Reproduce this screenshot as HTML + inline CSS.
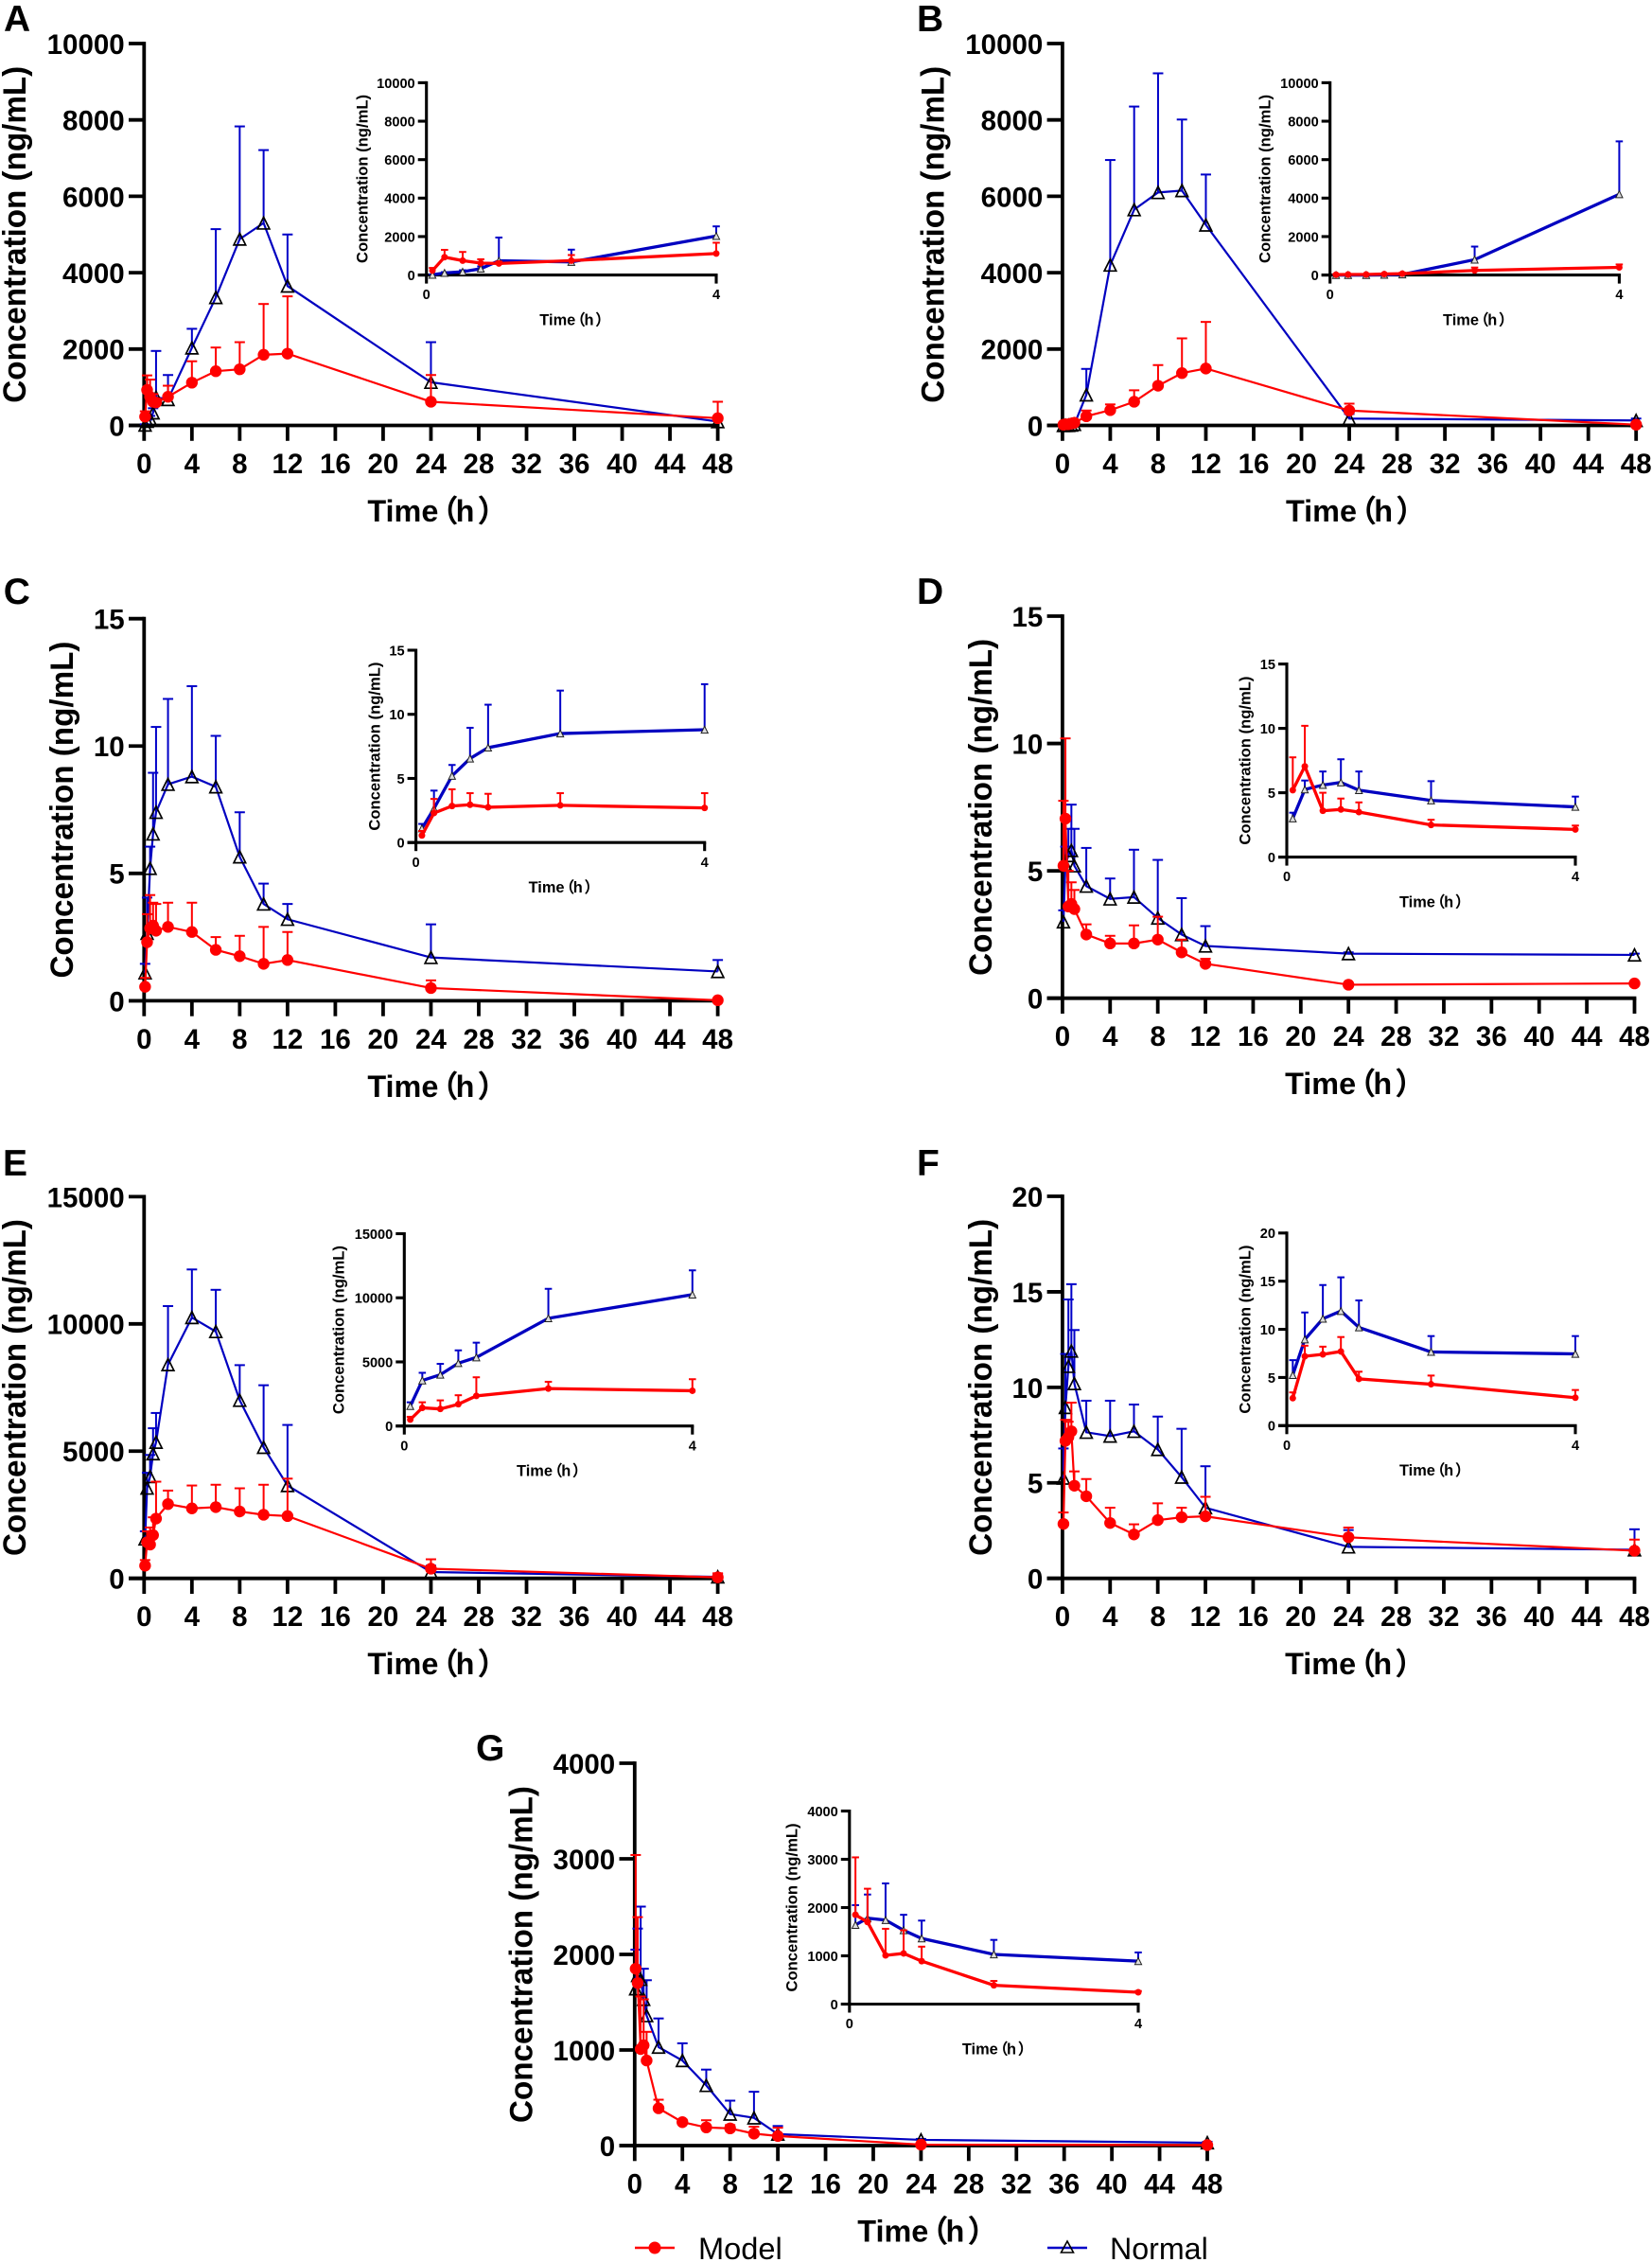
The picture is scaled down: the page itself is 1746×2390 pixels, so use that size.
<!DOCTYPE html>
<html lang="en">
<head>
<meta charset="utf-8">
<title>Concentration-time curves</title>
<style>
html,body{margin:0;padding:0;background:#fff;width:1746px;height:2390px;overflow:hidden}
svg{display:block}
text{font-family:"Liberation Sans","Noto Sans CJK SC",sans-serif;fill:#000}
</style>
</head>
<body>
<svg id="figure" width="1746" height="2390" viewBox="0 0 1746 2390" xmlns="http://www.w3.org/2000/svg">
  <g id="panels"></g>
  <g>
    <g>
      <line x1="671" y1="2375" x2="713" y2="2375" stroke="#ff0000" stroke-width="2.5"></line>
      <circle cx="692" cy="2375" r="6.5" fill="#ff0000"></circle>
      <text x="738" y="2387" font-size="32.6">Model</text>
    </g>
    <g>
      <line x1="1107" y1="2375" x2="1149" y2="2375" stroke="#0000c8" stroke-width="2.5"></line>
      <path d="M1128 2368 L1134.5 2380 L1121.5 2380 Z" fill="none" stroke="#000" stroke-width="1.6"></path>
      <text x="1173" y="2387" font-size="32.2">Normal</text>
    </g>
  </g>
</svg>
<script>
const timePoints = [0.083,0.25,0.5,0.75,1,2,4,6,8,10,12,24,48];
const xTickValues = [0,4,8,12,16,20,24,28,32,36,40,44,48];
const insetXTickValues = [0,4];

const yTicksA = [0,2000,4000,6000,8000,10000];
const modelMeanA = [230,930,750,620,600,750,1120,1420,1470,1850,1880,620,190];
const modelUpperA = [370,1310,1200,820,700,1040,1680,2040,2180,3180,3380,1320,620];
const normalMeanA = [10,110,170,330,740,680,2030,3350,4880,5300,3650,1130,100];
const normalUpperA = [30,150,250,450,1950,1320,2530,5140,7830,7210,5000,2180,130];

const yTicksB = [0,2000,4000,6000,8000,10000];
const modelMeanB = [20,30,30,50,70,240,400,620,1040,1370,1490,390,20];
const modelUpperB = [40,50,50,70,120,390,550,920,1580,2280,2710,570,40];
const normalMeanB = [0,0,0,10,30,800,4200,5650,6100,6150,5250,180,130];
const normalUpperB = [5,5,5,20,50,1480,6950,8350,9220,8010,6570,300,180];

const yTicksC = [0,5,10,15];
const modelMeanC = [0.55,2.3,2.85,2.95,2.75,2.9,2.7,2.0,1.75,1.45,1.6,0.5,0.02];
const modelUpperC = [0.9,3.4,4.15,3.85,3.8,3.85,3.85,2.5,2.55,2.9,2.7,0.8,0.05];
const normalMeanC = [1.1,2.65,5.2,6.55,7.4,8.5,8.8,8.4,5.65,3.8,3.2,1.7,1.15];
const normalUpperC = [1.45,4.05,6.05,8.95,10.75,11.85,12.35,10.4,7.4,4.6,3.8,3.0,1.6];

const yTicksD = [0,5,10,15];
const modelMeanD = [5.2,7.05,3.6,3.7,3.5,2.5,2.15,2.15,2.3,1.8,1.35,0.53,0.58];
const modelUpperD = [7.75,10.2,5.0,4.55,4.25,2.9,2.45,2.86,3.2,2.3,1.55,0.55,0.6];
const normalMeanD = [3.0,5.25,5.6,5.8,5.2,4.4,3.9,3.97,3.15,2.5,2.05,1.75,1.7];
const normalUpperD = [3.45,5.95,6.65,7.6,6.65,5.9,4.7,5.83,5.43,3.93,2.83,1.8,1.75];

const yTicksE = [0,5000,10000,15000];
const modelMeanE = [500,1420,1330,1700,2350,2920,2750,2800,2630,2500,2450,380,40];
const modelUpperE = [720,1850,2000,2400,3800,3450,3650,3680,3540,3680,3920,750,200];
const normalMeanE = [1550,3550,4000,4900,5350,8400,10250,9700,7000,5150,3650,250,60];
const normalUpperE = [1850,4150,4850,5900,6500,10700,12140,11340,8380,7590,6030,500,180];

const yTicksF = [0,5,10,15,20];
const modelMeanF = [2.85,7.2,7.4,7.7,4.85,4.3,2.9,2.3,3.05,3.2,3.25,2.15,1.45];
const modelUpperF = [3.45,8.3,8.2,9.2,5.6,5.2,3.7,2.83,3.93,3.7,4.27,2.66,2.03];
const normalMeanF = [5.25,8.95,11.1,11.9,10.2,7.65,7.45,7.7,6.75,5.3,3.7,1.65,1.5];
const normalUpperF = [6.8,11.75,14.6,15.4,13,9.3,9.3,9.1,8.47,7.83,5.87,2.53,2.57];

const yTicksG = [0,1000,2000,3000,4000];
const modelMeanG = [1850,1700,1010,1050,890,390,245,190,180,125,100,10,5];
const modelUpperG = [3040,2390,1560,1530,1190,480,270,265,215,198,187,15,10];
const normalMeanG = [1640,1780,1740,1530,1360,1030,890,630,330,290,120,60,30];
const normalUpperG = [2050,2270,2500,1850,1730,1330,1070,795,470,563,205,70,40];

const yTitleText = 'Concentration (ng/mL)';
const xTitleWord = 'Time';
const xTitleOpen = '（';
const xTitleUnit = 'h';
const xTitleClose = '）';

const panelConfigs = [
  {id:'A',ticks:yTicksA,mm:modelMeanA,mu:modelUpperA,nm:normalMeanA,nu:normalUpperA,letterX:4,letterY:33,
   box:{x0:152.3,x1:758.6,y0:449.5,y1:46},titleX:27,
   inset:{x0:450.7,x1:757,y0:290.6,y1:87.4},insetTitleX:388.5},
  {id:'B',ticks:yTicksB,mm:modelMeanB,mu:modelUpperB,nm:normalMeanB,nu:normalUpperB,letterX:969,letterY:33,
   box:{x0:1122.9,x1:1729.2,y0:449.5,y1:46},titleX:997.5,
   inset:{x0:1405.7,x1:1711.4,y0:290.6,y1:87.4},insetTitleX:1342.7},
  {id:'C',ticks:yTicksC,mm:modelMeanC,mu:modelUpperC,nm:normalMeanC,nu:normalUpperC,letterX:3.8,letterY:638,
   box:{x0:152.3,x1:758.6,y0:1057.4,y1:653.7},titleX:77,
   inset:{x0:439.6,x1:744.7,y0:890.2,y1:687},insetTitleX:401.3},
  {id:'D',ticks:yTicksD,mm:modelMeanD,mu:modelUpperD,nm:normalMeanD,nu:normalUpperD,letterX:969,letterY:638,
   box:{x0:1122.9,x1:1727.5,y0:1054.7,y1:651},titleX:1048,
   inset:{x0:1360,x1:1665,y0:905.6,y1:701.6},insetTitleX:1321.7},
  {id:'E',ticks:yTicksE,mm:modelMeanE,mu:modelUpperE,nm:normalMeanE,nu:normalUpperE,letterX:3,letterY:1242,
   box:{x0:152.3,x1:758.6,y0:1667.7,y1:1264.4},titleX:27,
   inset:{x0:427.3,x1:731.8,y0:1506.7,y1:1303.5},insetTitleX:363.7},
  {id:'F',ticks:yTicksF,mm:modelMeanF,mu:modelUpperF,nm:normalMeanF,nu:normalUpperF,letterX:969,letterY:1242,
   box:{x0:1122.9,x1:1727.5,y0:1667.7,y1:1264},titleX:1048,
   inset:{x0:1360,x1:1665,y0:1506.3,y1:1302.8},insetTitleX:1321.7},
  {id:'G',ticks:yTicksG,mm:modelMeanG,mu:modelUpperG,nm:normalMeanG,nu:normalUpperG,letterX:503,letterY:1860,
   box:{x0:670.8,x1:1276,y0:2267,y1:1863},titleX:562.7,
   inset:{x0:897.8,x1:1203,y0:2117.5,y1:1913.5},insetTitleX:842.3}
];

const SVG_NS = 'http://www.w3.org/2000/svg';
function mk(tag, attrs, parent, content) {
  const el = document.createElementNS(SVG_NS, tag);
  for (const k in attrs) el.setAttribute(k, attrs[k]);
  if (content !== undefined) el.textContent = content;
  parent.appendChild(el);
  return el;
}

function drawAxesAndSeries(parent, b, p, style, label) {
  const xMax = style.xTicks[style.xTicks.length - 1];
  const yMax = p.ticks[p.ticks.length - 1];
  const xScale = function (t) { return b.x0 + (t / xMax) * (b.x1 - b.x0); };
  const yScale = function (v) { return b.y0 - (v / yMax) * (b.y0 - b.y1); };

  const axisG = mk('g', {}, parent);
  
  

  const yAxis = mk('line', {x1:b.x0,y1:b.y1 - style.axisW / 2,x2:b.x0,y2:b.y0,stroke:'#000','stroke-width':style.axisW}, axisG);
  
  

  const xAxis = mk('line', {x1:b.x0 - style.tickLen,y1:b.y0,x2:b.x1 + style.axisW / 2,y2:b.y0,stroke:'#000','stroke-width':style.axisW}, axisG);
  
  

  p.ticks.forEach(function (v) {
    const yy = yScale(v);
    const tick = mk('line', {x1:b.x0 - style.tickLen,y1:yy,x2:b.x0,y2:yy,stroke:'#000','stroke-width':style.axisW}, axisG);
    
    
    const lab = mk('text', {x:b.x0 - style.yLabelGap,y:yy + style.fontSize * 0.37,'text-anchor':'end','font-size':style.fontSize,'font-weight':'700'}, axisG, String(v));
    
    
  });

  style.xTicks.forEach(function (t) {
    const xx = xScale(t);
    const tick = mk('line', {x1:xx,y1:b.y0,x2:xx,y2:b.y0 + style.tickLen,stroke:'#000','stroke-width':style.axisW}, axisG);
    
    
    const lab = mk('text', {x:xx,y:b.y0 + style.xLabelGap,'text-anchor':'middle','font-size':style.fontSize,'font-weight':'700'}, axisG, String(t));
    
    
  });

  const count = style.pointCount;
  const times = timePoints.slice(0, count);

  function drawErrors(group, means, uppers, color) {
    times.forEach(function (t, i) {
      const xx = xScale(t);
      const stem = mk('line', {x1:xx,y1:yScale(means[i]),x2:xx,y2:yScale(uppers[i]),stroke:color,'stroke-width':style.errW}, group);
      
      
      const cap = mk('line', {x1:xx - style.capW,y1:yScale(uppers[i]),x2:xx + style.capW,y2:yScale(uppers[i]),stroke:color,'stroke-width':style.errW}, group);
      
      
    });
  }
  function pathFor(means) {
    return times.map(function (t, i) { return (i ? 'L' : 'M') + xScale(t).toFixed(2) + ' ' + yScale(means[i]).toFixed(2); }).join(' ');
  }

  const normalG = mk('g', {}, parent);
  
  
  drawErrors(normalG, p.nm, p.nu, '#0000c8');
  const nLine = mk('path', {d:pathFor(p.nm),fill:'none',stroke:'#0000c0','stroke-width':style.lineW}, normalG);
  
  
  times.forEach(function (t, i) {
    const cx = xScale(t), cy = yScale(p.nm[i]), s = style.triSize;
    const tri = mk('path', {d:'M' + cx + ' ' + (cy - s) + ' L' + (cx + s) + ' ' + (cy + s) + ' L' + (cx - s) + ' ' + (cy + s) + ' Z',fill:style.triFill,stroke:style.triStroke,'stroke-width':style.triW}, normalG);
    
    
  });

  const modelG = mk('g', {}, parent);
  
  
  drawErrors(modelG, p.mm, p.mu, '#ff0000');
  const mLine = mk('path', {d:pathFor(p.mm),fill:'none',stroke:'#ff0000','stroke-width':style.lineW}, modelG);
  
  
  times.forEach(function (t, i) {
    const dot = mk('circle', {cx:xScale(t),cy:yScale(p.mm[i]),r:style.dotR,fill:'#ff0000'}, modelG);
    
    
  });
}

function drawYTitle(parent, x, cy, fontSize, len, label) {
  const el = mk('text', {x:x,y:cy,transform:'rotate(-90 ' + x + ' ' + cy + ')','text-anchor':'middle','font-size':fontSize,'font-weight':'700',textLength:len,lengthAdjust:'spacingAndGlyphs'}, parent, yTitleText);
  
  
}

function drawXTitle(parent, cx, y, fs, label) {
  const k = fs / 32;
  const el = mk('text', {x:cx - 63.5 * k,y:y,'font-size':fs,'font-weight':'700'}, parent);
  
  
  mk('tspan', {}, el, xTitleWord);
  mk('tspan', {dx:-11 * k}, el, xTitleOpen);
  mk('tspan', {dx:-3 * k}, el, xTitleUnit);
  mk('tspan', {dx:3 * k}, el, xTitleClose);
}

const mainStyle = {xTicks:xTickValues,pointCount:13,axisW:3.8,tickLen:16.3,yLabelGap:20.6,xLabelGap:50.5,fontSize:29.5,errW:2,capW:5.5,lineW:2.2,triSize:6.3,triFill:'none',triStroke:'#000',triW:1.7,dotR:6.2};
const insetStyle = {xTicks:insetXTickValues,pointCount:7,axisW:3.1,tickLen:9,yLabelGap:12,xLabelGap:25.6,fontSize:14.6,errW:2,capW:3.8,lineW:3.3,triSize:3.6,triFill:'#ddd',triStroke:'#222',triW:1,dotR:3.5};

const root = document.getElementById('panels');
panelConfigs.forEach(function (p) {
  const label = 'panel-' + p.id.toLowerCase();
  const g = mk('g', {}, root);
  
  

  const letter = mk('text', {x:p.letterX,y:p.letterY,'font-size':39,'font-weight':'700'}, g, p.id);
  
  

  const b = p.box;
  drawAxesAndSeries(g, b, p, mainStyle, label);
  drawYTitle(g, p.titleX, (b.y0 + b.y1) / 2, 34, 356, label);
  drawXTitle(g, (b.x0 + b.x1) / 2 - 2.8, b.y0 + 101.5, 32.4, label);

  const insetG = mk('g', {}, g);
  
  
  const i = p.inset;
  drawAxesAndSeries(insetG, i, p, insetStyle, label + '-inset');
  drawYTitle(insetG, p.insetTitleX, (i.y0 + i.y1) / 2, 16.6, 178, label + '-inset');
  drawXTitle(insetG, (i.x0 + i.x1) / 2 - 1, i.y0 + 52.8, 16.4, label + '-inset');
});
</script>
</body>
</html>
